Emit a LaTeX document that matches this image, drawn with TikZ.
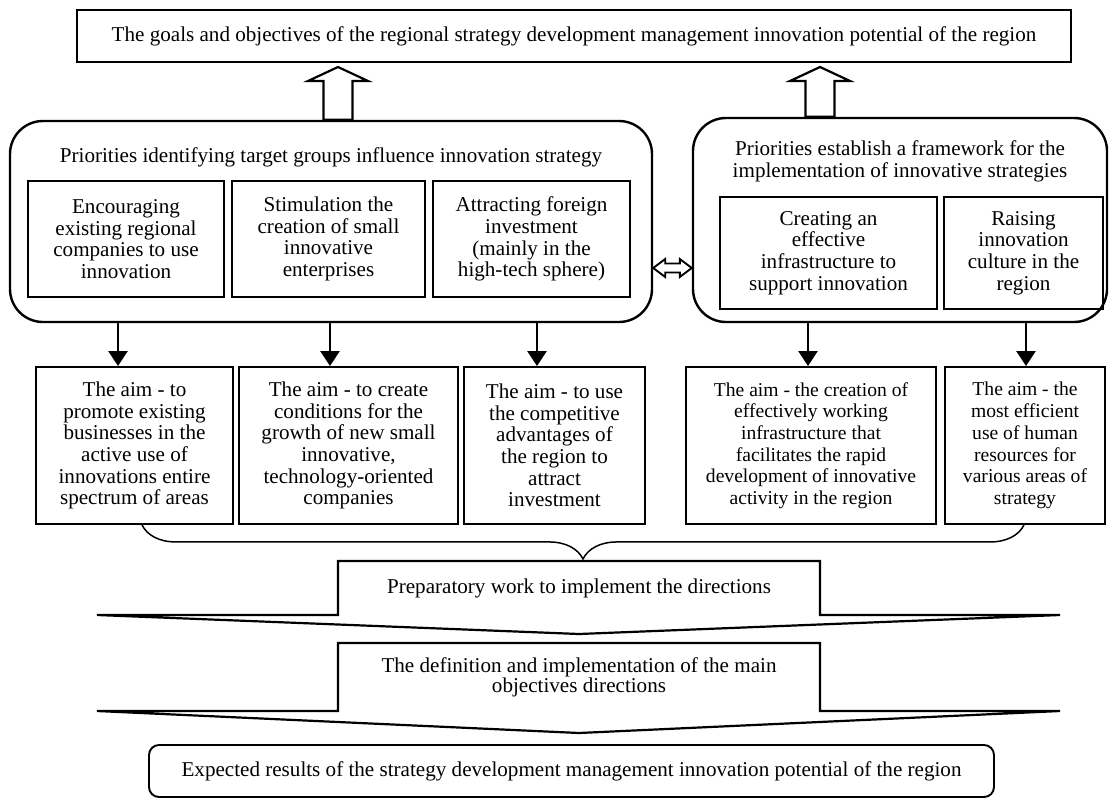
\documentclass[tikz,border=0pt]{standalone}
\usepackage{fontspec}
\setmainfont{Liberation Serif}
\usetikzlibrary{arrows.meta, calc, decorations.pathreplacing}
\tikzset{
  grp/.style ={rectangle, draw, line width=2.4pt, rounded corners=33pt},
  blk/.style ={rectangle, draw, line width=1.9pt, align=center, inner sep=2pt},
  ttl/.style ={align=center, inner sep=0pt},
  chev/.style={align=center, outer sep=0pt},
  shp/.style ={line width=2.2pt, line join=miter},
  arr/.style ={-{Triangle[length=15pt, width=19pt]}, line width=2.4pt},
  fat/.style ={line width=2.2pt, to path={let \p1=(\tikztostart), \p2=(\tikztotarget) in
      (\x1-14.5pt,\y1) -- (\x1-14.5pt,\y2-14pt) -- (\x1-30pt,\y2-14pt) -- (\x1,\y2)
      -- (\x1+30pt,\y2-14pt) -- (\x1+14.5pt,\y2-14pt) -- (\x1+14.5pt,\y1) -- cycle}},
  dbl/.style ={line width=1.9pt, to path={let \p1=(\tikztostart), \p2=(\tikztotarget) in
      (\x1,\y1) -- (\x1+12pt,\y1+9pt) -- (\x1+12pt,\y1+4.5pt) -- (\x2-12pt,\y1+4.5pt)
      -- (\x2-12pt,\y1+9pt) -- (\x2,\y1) -- (\x2-12pt,\y1-9pt) -- (\x2-12pt,\y1-4.5pt)
      -- (\x1+12pt,\y1-4.5pt) -- (\x1+12pt,\y1-9pt) -- cycle}},
  brc/.style ={decorate, decoration={brace, mirror, amplitude=34pt}, line width=1.5pt}
}

\begin{document}
\begin{tikzpicture}[x=1pt, y=-1pt, font=\fontsize{21.1}{21.7}\selectfont]
  \useasboundingbox (0,0) rectangle (1110,800);

  % goal at the top
  \node[blk, minimum width=994pt, minimum height=52pt] (goals) at (574,36)
    {The goals and objectives of the regional strategy development management innovation potential of the region};

  % left group of priorities
  \node[grp, minimum width=642pt, minimum height=201pt] (lgrp) at (331,221.5) {};
  \node[ttl] (ltitle) at (331,157) {Priorities identifying target groups influence innovation strategy};
  \node[blk, minimum width=196pt, minimum height=116pt] (pri1) at (126,239)
    {Encouraging\\existing regional\\companies to use\\innovation};
  \node[blk, minimum width=193pt, minimum height=116pt] (pri2) at (328.5,239)
    {Stimulation the\\creation of small\\innovative\\enterprises};
  \node[blk, minimum width=197pt, minimum height=116pt] (pri3) at (531.5,239)
    {Attracting foreign\\investment\\(mainly in the\\high-tech sphere)};

  % right group of priorities
  \node[grp, minimum width=414pt, minimum height=204pt] (rgrp) at (900,220) {};
  \node[ttl] (rtitle) at (900,161) {Priorities establish a framework for the\\implementation of innovative strategies};
  \node[blk, minimum width=217pt, minimum height=112pt] (pra) at (828.5,253)
    {Creating an\\effective\\infrastructure to\\support innovation};
  \node[blk, minimum width=159pt, minimum height=112pt] (prb) at (1023.5,253)
    {Raising\\innovation\\culture in the\\region};

  % aims
  \node[blk, minimum width=197pt, minimum height=157pt] (aim1) at (134.5,445.5)
    {The aim - to\\promote existing\\businesses in the\\active use of\\innovations entire\\spectrum of areas};
  \node[blk, minimum width=219pt, minimum height=157pt] (aim2) at (348.5,445.5)
    {The aim - to create\\conditions for the\\growth of new small\\innovative,\\technology-oriented\\companies};
  \node[blk, minimum width=181pt, minimum height=157pt] (aim3) at (554.5,445.5)
    {The aim - to use\\the competitive\\advantages of\\the region to\\attract\\investment};
  \node[blk, minimum width=250pt, minimum height=157pt, font=\fontsize{19.6}{21.7}\selectfont] (aim4) at (811,445.5)
    {The aim - the creation of\\effectively working\\infrastructure that\\facilitates the rapid\\development of innovative\\activity in the region};
  \node[blk, minimum width=160pt, minimum height=157pt, font=\fontsize{19.6}{21.7}\selectfont] (aim5) at (1025,445.5)
    {The aim - the\\most efficient\\use of human\\resources for\\various areas of\\strategy};

  % stages
  \node[chev, minimum width=482pt, minimum height=54pt] (prep) at (579,588)
    {Preparatory work to implement the directions};
  \node[chev, minimum width=482pt, minimum height=68pt, font=\fontsize{21.1}{15}\selectfont] (defn) at (579,677)
    {The definition and implementation of the main\\objectives directions};
  \node[blk, rounded corners=10pt, minimum width=845pt, minimum height=52pt] (result) at (571.5,771)
    {Expected results of the strategy development management innovation potential of the region};

  \draw[shp] (prep.north west) -- (prep.south west) -- ++(-241,0) -- ($(prep.south)+(0,19)$)
    -- ($(prep.south east)+(240,0)$) -- (prep.south east) -- (prep.north east) -- cycle;
  \draw[shp] (defn.north west) -- (defn.south west) -- ++(-241,0) -- ($(defn.south)+(0,22)$)
    -- ($(defn.south east)+(240,0)$) -- (defn.south east) -- (defn.north east) -- cycle;

  % connectors
  \coordinate (up1) at (338,67);
  \coordinate (up2) at (820,67);
  \draw[fat] (lgrp.north -| up1) to (up1);
  \draw[fat] (rgrp.north -| up2) to (up2);

  \coordinate (mid) at (672,268);
  \draw[dbl] (lgrp.east |- mid) to (rgrp.west |- mid);

  \coordinate (d1) at (118,345);
  \coordinate (d2) at (330,345);
  \coordinate (d3) at (537,345);
  \coordinate (d4) at (808,345);
  \coordinate (d5) at (1026,345);
  \draw[arr] (lgrp.south -| d1) -- (aim1.north -| d1);
  \draw[arr] (lgrp.south -| d2) -- (aim2.north -| d2);
  \draw[arr] (lgrp.south -| d3) -- (aim3.north -| d3);
  \draw[arr] (rgrp.south -| d4) -- (aim4.north -| d4);
  \draw[arr] (rgrp.south -| d5) -- (aim5.north -| d5);

  \draw[brc] ([xshift=7.5pt]aim1.south) -- ([xshift=-1pt]aim5.south);
\end{tikzpicture}
\end{document}
